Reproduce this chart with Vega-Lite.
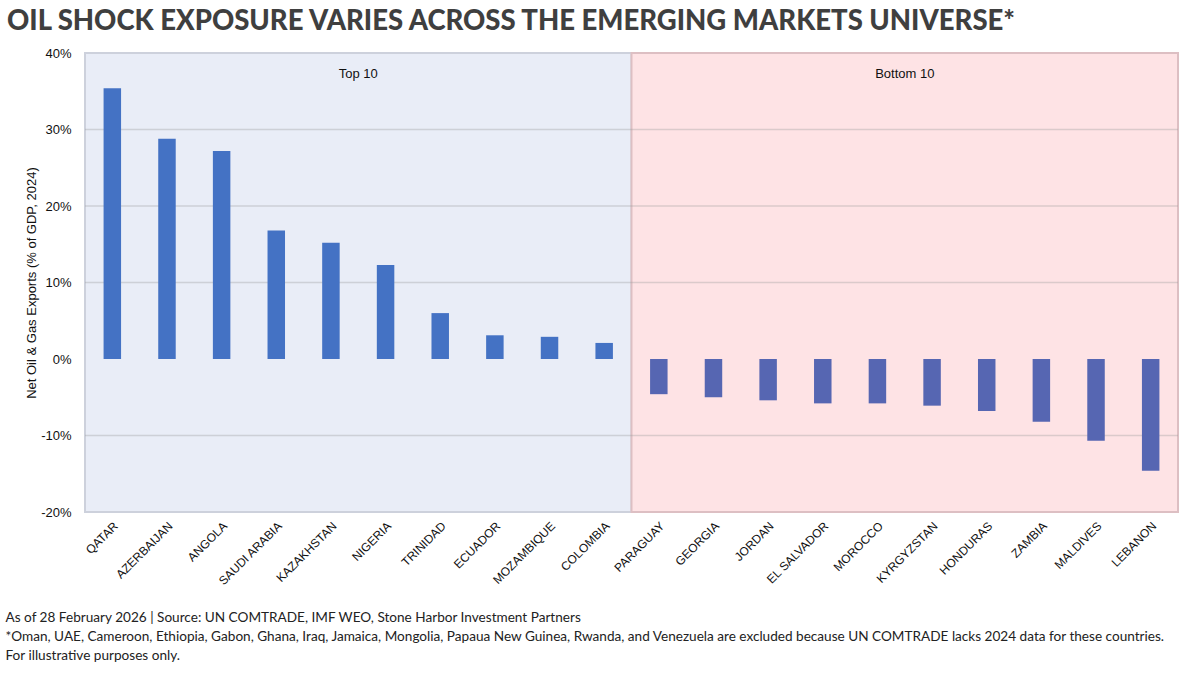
{
  "$schema": "https://vega.github.io/schema/vega-lite/v6.json",
  "autosize": {"type": "none"},
  "width": 1093,
  "height": 459,
  "padding": {"left": 85, "top": 53, "right": 22, "bottom": 163},
  "background": "white",
  "title": {
    "text": "OIL SHOCK EXPOSURE VARIES ACROSS THE EMERGING MARKETS UNIVERSE*",
    "anchor": "start",
    "frame": "group",
    "dx": -78,
    "offset": 12,
    "font": "Lato",
    "fontSize": 27.5,
    "fontWeight": 900,
    "color": "#3f3f3f"
  },
  "config": {
    "view": {"stroke": null},
    "axis": {"grid": false, "domain": false, "ticks": false}
  },
  "datasets": {
    "bars": [
      {"country": "QATAR", "group": "Top 10", "value": 35.4},
      {"country": "AZERBAIJAN", "group": "Top 10", "value": 28.8},
      {"country": "ANGOLA", "group": "Top 10", "value": 27.2},
      {"country": "SAUDI ARABIA", "group": "Top 10", "value": 16.8},
      {"country": "KAZAKHSTAN", "group": "Top 10", "value": 15.2},
      {"country": "NIGERIA", "group": "Top 10", "value": 12.3},
      {"country": "TRINIDAD", "group": "Top 10", "value": 6.0},
      {"country": "ECUADOR", "group": "Top 10", "value": 3.1},
      {"country": "MOZAMBIQUE", "group": "Top 10", "value": 2.9},
      {"country": "COLOMBIA", "group": "Top 10", "value": 2.1},
      {"country": "PARAGUAY", "group": "Bottom 10", "value": -4.6},
      {"country": "GEORGIA", "group": "Bottom 10", "value": -5.0},
      {"country": "JORDAN", "group": "Bottom 10", "value": -5.4},
      {"country": "EL SALVADOR", "group": "Bottom 10", "value": -5.8},
      {"country": "MOROCCO", "group": "Bottom 10", "value": -5.8},
      {"country": "KYRGYZSTAN", "group": "Bottom 10", "value": -6.1},
      {"country": "HONDURAS", "group": "Bottom 10", "value": -6.8},
      {"country": "ZAMBIA", "group": "Bottom 10", "value": -8.2},
      {"country": "MALDIVES", "group": "Bottom 10", "value": -10.7},
      {"country": "LEBANON", "group": "Bottom 10", "value": -14.6}
    ],
    "regions": [
      {"group": "Top 10", "start": 0, "end": 10, "mid": 5},
      {"group": "Bottom 10", "start": 10, "end": 20, "mid": 15}
    ],
    "grid": [{"v": -10}, {"v": 10}, {"v": 20}, {"v": 30}]
  },
  "layer": [
    {
      "data": {"name": "regions"},
      "layer": [
        {
          "mark": {"type": "rect", "strokeWidth": 2},
          "encoding": {
            "x": {"field": "start", "type": "quantitative", "scale": {"domain": [0, 20], "nice": false, "zero": false}, "axis": null},
            "x2": {"field": "end"},
            "y": {"datum": 40, "type": "quantitative", "title": "Net Oil & Gas Exports (% of GDP, 2024)"},
            "y2": {"datum": -20},
            "fill": {"field": "group", "type": "nominal", "scale": {"domain": ["Top 10", "Bottom 10"], "range": ["#E9EDF7", "#FEE3E5"]}, "legend": null},
            "stroke": {"field": "group", "type": "nominal", "scale": {"domain": ["Top 10", "Bottom 10"], "range": ["#CDD1DC", "#DDBFC3"]}, "legend": null}
          }
        },
        {
          "mark": {"type": "text", "font": "Liberation Sans, Arial, sans-serif", "fontSize": 13, "color": "#111111", "baseline": "middle", "align": "center"},
          "encoding": {
            "x": {"field": "mid", "type": "quantitative", "axis": null},
            "y": {"datum": 37.3, "type": "quantitative", "title": "Net Oil & Gas Exports (% of GDP, 2024)"},
            "text": {"field": "group"}
          }
        }
      ]
    },
    {
      "data": {"name": "grid"},
      "mark": {"type": "rule", "color": "#9a9a9a", "opacity": 0.35, "strokeWidth": 1.5},
      "encoding": {
        "y": {"field": "v", "type": "quantitative", "title": "Net Oil & Gas Exports (% of GDP, 2024)"}
      }
    },
    {
      "data": {"name": "bars"},
      "mark": {"type": "bar"},
      "encoding": {
        "x": {
          "field": "country",
          "type": "nominal",
          "sort": null,
          "scale": {"paddingInner": 0.68, "paddingOuter": 0.34},
          "axis": {
            "labelAngle": -45,
            "labelFont": "Liberation Sans, Arial, sans-serif",
            "labelFontSize": 12,
            "labelColor": "#111111",
            "labelPadding": 8,
            "title": [
              "As of 28 February 2026  |  Source: UN COMTRADE, IMF WEO, Stone Harbor Investment Partners",
              "*Oman, UAE, Cameroon, Ethiopia, Gabon, Ghana, Iraq, Jamaica, Mongolia, Papaua New Guinea, Rwanda, and Venezuela are excluded because UN COMTRADE lacks 2024 data for these countries.",
              "For illustrative purposes only."
            ],
            "titleX": -80,
            "titleY": 98,
            "titleAlign": "left",
            "titleAnchor": "start",
            "titleBaseline": "top",
            "titleLineHeight": 19,
            "titleFont": "Lato",
            "titleFontSize": 13.6,
            "titleFontWeight": "normal",
            "titleColor": "#222222"
          }
        },
        "y": {
          "field": "value",
          "type": "quantitative",
          "scale": {"domain": [-20, 40], "nice": false},
          "title": "Net Oil & Gas Exports (% of GDP, 2024)",
          "axis": {
            "values": [-20, -10, 0, 10, 20, 30, 40],
            "labelExpr": "datum.value + '%'",
            "labelFont": "Liberation Sans, Arial, sans-serif",
            "labelFontSize": 13,
            "labelColor": "#111111",
            "labelPadding": 14,
            "titleFont": "Liberation Sans, Arial, sans-serif",
            "titleFontSize": 13,
            "titleFontWeight": "normal",
            "titleColor": "#111111",
            "titlePadding": 2
          }
        },
        "color": {"field": "group", "type": "nominal", "scale": {"domain": ["Top 10", "Bottom 10"], "range": ["#4472C4", "#5666B2"]}, "legend": null}
      }
    },
    {
      "mark": {"type": "rule", "color": "#000000", "strokeWidth": 1.5},
      "encoding": {
        "y": {"datum": 0, "type": "quantitative", "title": "Net Oil & Gas Exports (% of GDP, 2024)"}
      }
    }
  ],
  "resolve": {"scale": {"x": "independent", "fill": "independent", "stroke": "independent", "color": "independent"}, "axis": {"x": "independent"}}
}
